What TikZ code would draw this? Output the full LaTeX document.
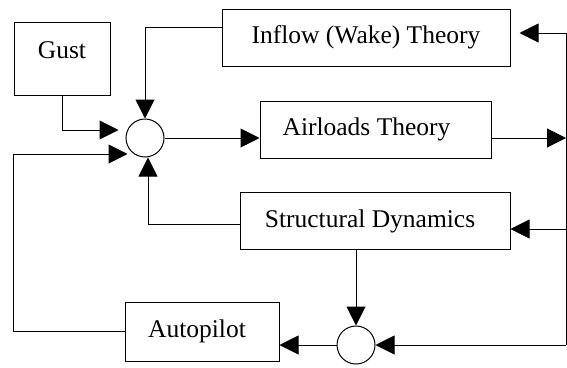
\documentclass[tikz,border=0pt]{standalone}
\usepackage{fontspec}
\setmainfont{Liberation Serif}
\usepackage{tikz}
\usetikzlibrary{positioning,arrows.meta,calc}

\begin{document}
\begin{tikzpicture}[
  x=1pt,y=-1pt,
  font=\fontsize{25.5}{30}\selectfont,
  block/.style={draw=black,line width=1pt,fill=white,inner sep=0pt},
  junc/.style={draw=black,line width=1pt,circle,minimum size=38pt,inner sep=0pt},
  wire/.style={draw=black,line width=1pt},
  arr/.style={wire,-{Triangle[length=19pt,width=19pt]}},
]
\useasboundingbox (0,0) rectangle (567,367);

% blocks
\node[block,minimum width=96pt,minimum height=73pt,text height=18pt,text depth=19pt] (gust) at (62,58.5) {Gust};
\node[block,minimum width=288pt,minimum height=57pt] (inflow) at (366,37.5) {Inflow (Wake) Theory};
\node[block,minimum width=231pt,minimum height=57pt] (air) at (375.5,129.5) {\hspace*{-18pt}Airloads Theory};
\node[block,minimum width=270pt,minimum height=57pt] (struct) at (375,221) {\hspace*{-10pt}Structural Dynamics};
\node[block,minimum width=154pt,minimum height=59pt] (pilot) at (202,331.5) {\hspace*{-10pt}Autopilot};

% summing junctions
\node[junc] (sum1) at (145,138) {};
\node[junc] (sum2) at (356,345) {};

% feedback bus on the right
\coordinate (busTop) at (566,33);
\coordinate (busBot) at (566,345);
\draw[wire] (busTop) -- (busBot);

% inputs to the first junction
\draw[arr,shorten >=7pt] (gust.south) |- ([yshift=8pt]sum1.west);
\draw[arr] ([yshift=10pt]inflow.west) -| (sum1.north);
\draw[arr] ([yshift=-3pt]struct.west) -| ([xshift=3pt]sum1.south);
\draw[arr] (pilot.west) -- (pilot.west -| gust.west) |- ([xshift=2pt,yshift=-16pt]sum1.west);

% forward path
\draw[arr] (sum1.east) -- (sum1.east -| air.west);
\draw[arr] (sum1 -| air.east) -- (sum1 -| busTop);

% back from the bus
\draw[arr,shorten >=9pt] (busTop) -- (busTop -| inflow.east);
\draw[arr] ([yshift=-8pt]struct.east -| busTop) -- ([yshift=-8pt]struct.east);
\draw[arr] (busBot) -- (sum2.east);

% lower loop
\draw[arr] (struct.south -| sum2) -- (sum2.north);
\draw[arr] (sum2.west) -- (sum2.west -| pilot.east);
\end{tikzpicture}
\end{document}
